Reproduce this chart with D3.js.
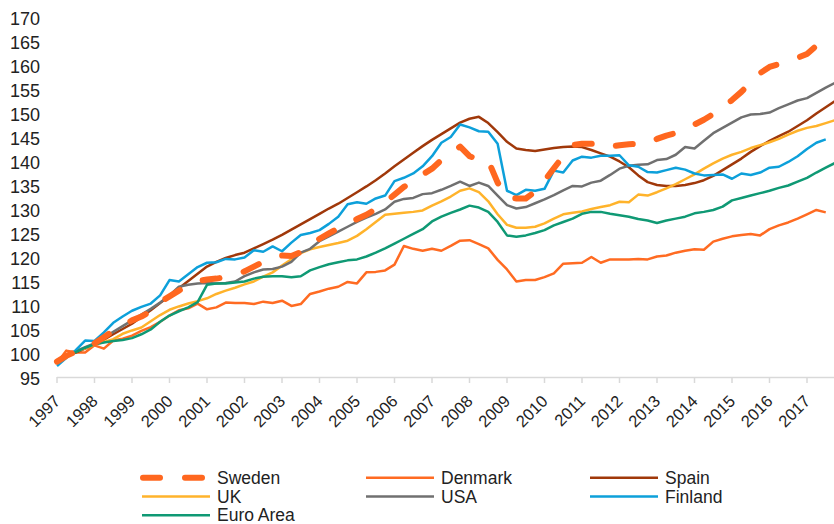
<!DOCTYPE html>
<html>
<head>
<meta charset="utf-8">
<script src="https://cdn.jsdelivr.net/npm/d3@7"></script>
<style>
body{margin:0;background:#fff;}
svg{display:block;font-family:"Liberation Sans",Arial,sans-serif;}
</style>
</head>
<body>
<svg id="chart" width="834" height="524"></svg>
<script>
// quarterly index, 1997Q1 = 100-ish
var years=['1997','1998','1999','2000','2001','2002','2003','2004','2005','2006','2007','2008','2009','2010','2011','2012','2013','2014','2015','2016','2017'];
var yTicks=[95,100,105,110,115,120,125,130,135,140,145,150,155,160,165,170];

var sweden=[98.2,99.4,100.3,101.2, 102.0,103.3,104.6,105.7, 106.8,107.6,108.7,110.6, 111.8,113.0,114.2,115.0,
  115.3,115.5,115.8,116.3, 117.0,118.0,119.0,119.8, 120.3,120.2,121.0,122.3, 123.8,124.9,126.0,127.0,
  127.9,128.8,130.0,131.4, 133.0,134.6,135.8,137.2, 138.4,140.2,141.5,143.0, 141.0,140.3,140.1,135.5,
  132.4,132.2,132.2,133.6, 135.9,138.5,141.0,143.3, 143.6,143.6,143.8,143.0, 143.3,143.5,143.6,143.6,
  144.6,145.3,145.8,146.5, 147.6,148.6,149.8,151.2, 152.7,154.4,156.4,158.3, 159.6,160.2,160.8,161.5,
  162.3,164.0,165.5];
var denmark=[97.9,100.5,100.1,100.1, 101.6,100.9,102.6,103.0, 103.6,104.6,105.4,106.5, 107.8,108.9,109.3,110.3,
  109.1,109.5,110.5,110.4, 110.4,110.2,110.7,110.4, 110.9,109.8,110.2,112.3, 112.8,113.4,113.8,114.8,
  114.5,116.8,116.9,117.2, 118.4,122.3,121.7,121.3, 121.7,121.3,122.3,123.4, 123.5,122.7,121.8,119.4,
  117.4,114.9,115.2,115.2, 115.8,116.6,118.6,118.7, 118.8,120.0,118.8,119.5, 119.5,119.5,119.6,119.5,
  120.1,120.3,120.9,121.3, 121.6,121.5,123.2,123.8, 124.3,124.6,124.8,124.5, 125.8,126.6,127.2,128.0,
  128.9,129.8,129.3];
var spain=[98.2,99.3,100.1,100.9, 101.8,102.8,103.9,105.0, 106.1,107.5,108.9,110.4, 111.9,113.5,115.0,116.5,
  118.0,119.0,119.8,120.4, 120.9,121.8,122.7,123.6, 124.6,125.7,126.8,127.9, 129.0,130.1,131.1,132.3,
  133.5,134.7,136.0,137.4, 138.9,140.3,141.7,143.1, 144.4,145.6,146.8,148.0, 148.8,149.2,147.9,146.0,
  144.0,142.6,142.3,142.1, 142.4,142.7,142.9,143.0, 142.9,142.3,141.6,140.9, 139.9,138.7,137.0,135.6,
  135.0,134.8,134.8,135.0, 135.4,136.0,136.9,138.1, 139.3,140.5,141.9,143.1, 144.2,145.2,146.1,147.3,
  148.5,149.9,151.2,152.5];
var uk=[98.2,99.3,100.3,101.0, 101.7,102.3,102.9,104.0, 104.7,105.3,106.6,107.9, 109.0,109.7,110.3,110.8,
  111.4,112.3,113.0,113.6, 114.3,114.9,115.9,116.8, 118.2,119.5,120.8,121.6, 122.1,122.5,122.9,123.4,
  124.4,125.8,127.3,128.8, 129.0,129.2,129.4,129.7, 130.7,131.6,132.6,133.8, 134.3,133.5,131.6,128.9,
  126.7,126.1,126.1,126.3, 127.0,128.0,128.9,129.2, 129.5,130.0,130.4,130.8, 131.5,131.4,133.0,132.8,
  133.5,134.3,135.2,136.2, 137.2,138.4,139.5,140.5, 141.3,141.9,142.7,143.3, 143.9,144.6,145.5,146.3,
  146.9,147.3,147.9,148.5];
var usa=[98.2,99.4,100.4,101.2, 102.0,103.2,104.4,105.6, 106.8,108.0,109.2,110.5, 112.0,113.8,114.2,114.5,
  114.6,114.5,114.6,114.9, 116.0,116.8,117.4,117.5, 118.0,119.0,120.9,121.7, 123.3,124.3,125.3,126.3,
  127.3,128.2,129.0,129.9, 131.5,132.1,132.3,133.1, 133.3,134.0,134.8,135.7, 134.8,135.5,134.8,132.8,
  130.8,130.1,130.4,131.2, 132.0,132.9,133.9,134.8, 134.7,135.5,135.9,137.1, 138.4,139.0,139.2,139.3,
  140.2,140.4,141.3,142.9, 142.6,144.2,145.8,146.9, 148.0,149.1,149.7,149.8, 150.1,151.0,151.8,152.6,
  153.1,154.2,155.3,156.3];
var finland=[97.3,99.0,100.6,102.6, 102.5,104.3,106.3,107.6, 108.8,109.6,110.3,112.0, 115.2,114.9,116.4,117.9,
  118.8,118.9,119.6,119.5, 119.9,121.4,121.1,122.2, 121.2,123.0,124.6,125.0, 125.6,126.9,128.4,131.0,
  131.4,131.1,132.2,132.8, 135.8,136.5,137.4,138.9, 141.0,143.8,145.0,147.6, 147.0,146.2,146.1,143.6,
  133.8,132.9,134.0,133.8, 134.2,138.0,137.6,140.1, 140.9,140.7,141.1,141.1, 141.2,139.1,138.8,137.7,
  137.6,138.1,138.6,138.2, 137.4,137.0,137.1,137.2, 136.3,137.4,137.1,137.6, 138.6,138.8,139.8,141.0,
  142.5,143.8,144.5];
var euroArea=[98.5,99.4,100.2,101.1, 101.8,102.2,102.5,102.7, 103.1,103.9,104.9,106.5, 107.8,108.7,109.5,110.6,
  114.2,114.5,114.5,114.7, 114.9,115.5,115.9,116.0, 116.0,115.8,116.0,117.2, 117.9,118.5,118.9,119.3,
  119.5,120.1,120.9,121.8, 122.8,123.8,124.8,125.8, 127.4,128.4,129.2,129.9, 130.7,130.3,129.4,127.3,
  124.5,124.2,124.5,125.0, 125.6,126.6,127.3,128.0, 129.0,129.4,129.4,129.0, 128.7,128.4,127.9,127.6,
  127.1,127.6,128.0,128.4, 129.1,129.4,129.8,130.5, 131.8,132.3,132.8,133.3, 133.8,134.4,134.9,135.7,
  136.5,137.6,138.6,139.6];

var svg=d3.select("#chart");
var x=d3.scaleLinear().domain([1997,2018]).range([57,844.5]);
var y=d3.scaleLinear().domain([95,170]).range([377,17]);

var series=[
  {name:"Sweden",values:sweden,color:"#FF671F",w:6,dash:"17,25"},
  {name:"Denmark",values:denmark,color:"#FF6B22",w:2.5},
  {name:"Spain",values:spain,color:"#A0380A",w:2.5},
  {name:"UK",values:uk,color:"#FFB32B",w:2.5},
  {name:"USA",values:usa,color:"#707070",w:2.5},
  {name:"Finland",values:finland,color:"#0DA0DA",w:2.5},
  {name:"Euro Area",values:euroArea,color:"#0F9974",w:2.5}
];

// y labels (no axis line, no grid)
svg.append("g").selectAll("text").data(yTicks).enter().append("text")
  .attr("x",40).attr("y",function(d){ return y(d)+1.5; })
  .attr("text-anchor","end").attr("dominant-baseline","central")
  .attr("font-size","18px").attr("fill","#222")
  .text(function(d){ return d; });

// x axis
var ax=svg.append("g");
ax.append("line").attr("x1",57).attr("x2",834).attr("y1",377.5).attr("y2",377.5)
  .attr("stroke","#D9D9D9").attr("stroke-width",1.5);
ax.selectAll("line.tk").data(years).enter().append("line").attr("class","tk")
  .attr("x1",function(d){ return x(+d); }).attr("x2",function(d){ return x(+d); })
  .attr("y1",377).attr("y2",383).attr("stroke","#D9D9D9").attr("stroke-width",1.5);
ax.selectAll("text").data(years).enter().append("text")
  .attr("transform",function(d){ return "translate("+x(+d)+",398) rotate(-45)"; })
  .attr("text-anchor","end").attr("dominant-baseline","central")
  .attr("font-size","16.5px").attr("fill","#222")
  .text(function(d){ return d; });

// lines
var line=d3.line().x(function(d,i){ return x(1997+i/4); }).y(function(d){ return y(d); });
var order=[1,2,3,4,5,6,0]; // Sweden on top
var gl=svg.append("g");
order.forEach(function(k){
  var s=series[k];
  var p=gl.append("path").datum(s.values).attr("d",line)
    .attr("fill","none").attr("stroke",s.color).attr("stroke-width",s.w)
    .attr("stroke-linejoin","round");
  if(s.dash) p.attr("stroke-dasharray",s.dash).attr("stroke-linecap","round");
});

// legend, 3 per row
var colX=[142,366,590], rowY=[477.8,496.6,515.2];
var lg=svg.append("g");
series.forEach(function(s,i){
  var cx=colX[i%3], cy=rowY[Math.floor(i/3)];
  var l=lg.append("line").attr("y1",cy).attr("y2",cy).attr("stroke",s.color);
  if(s.dash){
    l.attr("x1",cx+1).attr("x2",cx+60).attr("stroke-width",6).attr("stroke-dasharray",s.dash).attr("stroke-linecap","round");
  }else{
    l.attr("x1",cx).attr("x2",cx+68).attr("stroke-width",s.w);
  }
  lg.append("text").attr("x",cx+75).attr("y",cy).attr("dominant-baseline","central")
    .attr("font-size","17.5px").attr("fill","#222").text(s.name);
});
</script>
</body>
</html>
